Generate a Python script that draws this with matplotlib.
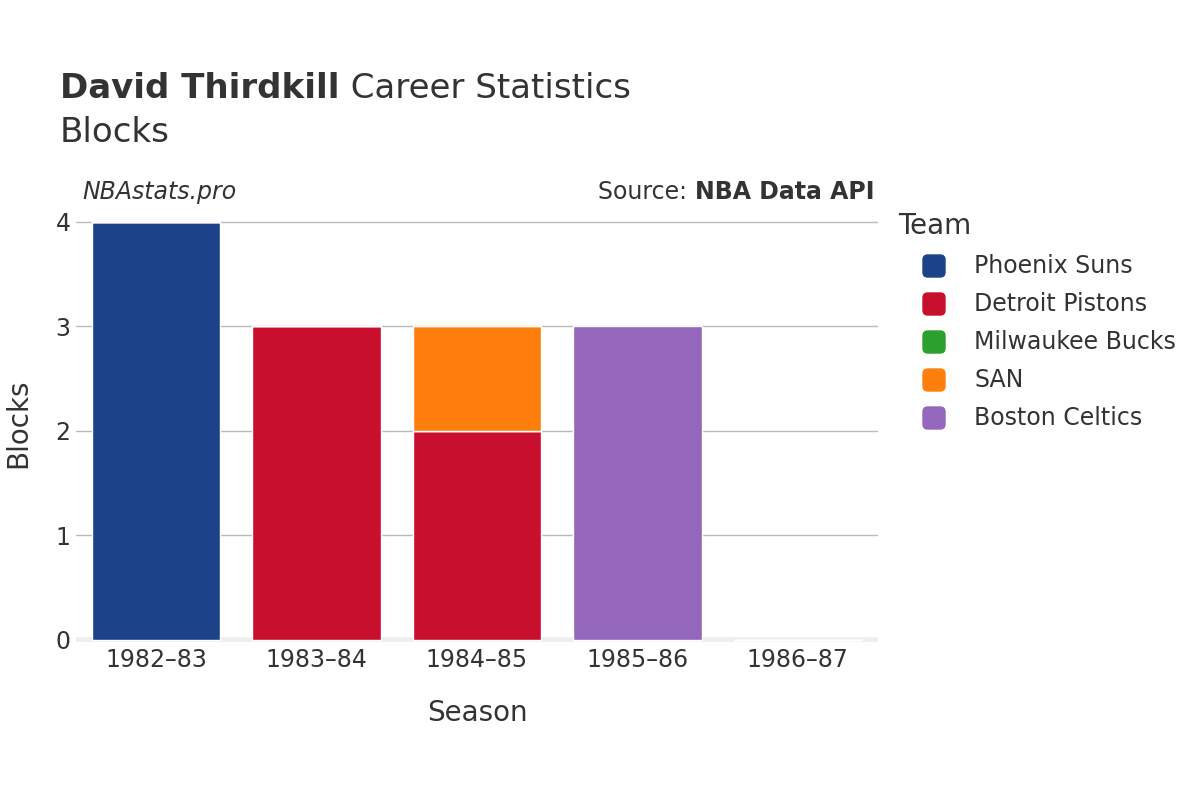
import matplotlib
matplotlib.use("Agg")
import matplotlib.pyplot as plt
from matplotlib.patches import FancyBboxPatch
import numpy as np

seasons = ["1982–83", "1983–84", "1984–85", "1985–86", "1986–87"]
teams = ["Phoenix Suns", "Detroit Pistons", "Milwaukee Bucks", "SAN", "Boston Celtics"]
colors = ["#1c4289", "#c8102e", "#2ca02c", "#ff7f0e", "#9467bd"]
values = {
    "Phoenix Suns":    [4, 0, 0, 0, 0],
    "Detroit Pistons": [0, 3, 2, 0, 0],
    "Milwaukee Bucks": [0, 0, 0, 0, 0],
    "SAN":             [0, 0, 1, 0, 0],
    "Boston Celtics":  [0, 0, 0, 3, 0],
}
yticks = [0, 1, 2, 3, 4]

TXT = "#333333"
plt.rcParams['font.family'] = ['DejaVu Sans']
fig = plt.figure(figsize=(12, 8), dpi=100)
ax = fig.add_axes([76/1200, 1 - 642/800, 802/1200, 437/800])

x = np.arange(len(seasons))
bottom = np.zeros(len(seasons))
for t, c in zip(teams, colors):
    v = np.array(values[t], dtype=float)
    ax.bar(x, v, bottom=bottom, width=0.8, color=c, edgecolor="white", linewidth=1, zorder=3)
    bottom += v

ax.set_xlim(-0.5, len(seasons) - 0.5)
ax.set_ylim(-0.02, 4.16)
ax.set_yticks(yticks)
ax.set_xticks(x)
ax.set_xticklabels(seasons)
ax.tick_params(axis='both', length=0, labelsize=17, colors=TXT)
ax.tick_params(axis='x', pad=4)
ax.tick_params(axis='y', pad=4)
ax.grid(axis='y', color="#bbbbbb", linewidth=1, zorder=0)
ax.axhline(0, color="#eeeeee", linewidth=4, zorder=2)
for s in ax.spines.values():
    s.set_visible(False)
ax.set_xlabel("Season", fontsize=20, color=TXT, labelpad=20)
ax.set_ylabel("Blocks", fontsize=20, color=TXT, labelpad=17)

# Title
r = fig.canvas.get_renderer()
t1 = fig.text(60/1200, 1 - 89/800, "David Thirdkill", fontsize=24.5, fontweight='bold',
              color=TXT, va='center', ha='left')
bb = t1.get_window_extent(renderer=r)
fig.text(bb.x1 / 1200, 1 - 89/800, " Career Statistics", fontsize=24.5,
         color=TXT, va='center', ha='left')
fig.text(60/1200, 1 - 132/800, "Blocks", fontsize=24.5, color=TXT, va='center', ha='left')

fig.text(82/1200, 1 - 192/800, "NBAstats.pro", fontsize=17, style='italic',
         color=TXT, va='center', ha='left')
src = fig.text(874/1200, 1 - 192/800, "NBA Data API", fontsize=17, fontweight='bold',
               color=TXT, va='center', ha='right')
bb2 = src.get_window_extent(renderer=r)
fig.text(bb2.x0 / 1200, 1 - 192/800, "Source: ", fontsize=17,
         color=TXT, va='center', ha='right')

# Legend (manual, plotly style)
fig.text(898/1200, 1 - 226/800, "Team", fontsize=20, color=TXT, va='center', ha='left')
for i, (t, c) in enumerate(zip(teams, colors)):
    yc = 266 + 38 * i
    p = FancyBboxPatch((923 / 1200, 1 - (yc + 11) / 800), 22 / 1200, 22 / 800,
                       boxstyle="round,pad=0,rounding_size=0.004",
                       transform=fig.transFigure, facecolor=c, edgecolor=c,
                       mutation_aspect=1.5)
    fig.patches.append(p)
    fig.text(974/1200, 1 - yc/800, t, fontsize=17, color=TXT, va='center', ha='left')

fig.savefig("out.png", dpi=100)
